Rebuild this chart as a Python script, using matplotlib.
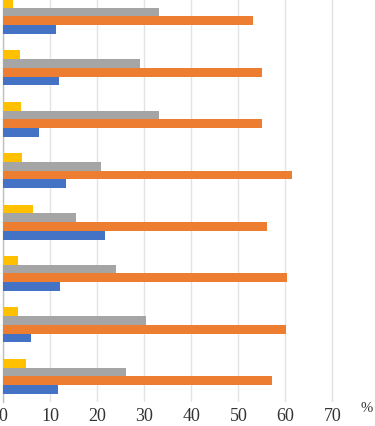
import matplotlib
matplotlib.use("Agg")
import matplotlib.pyplot as plt
import numpy as np

plt.rcParams["font.family"] = ["Liberation Serif", "DejaVu Serif"]

# groups listed bottom to top
groups = [1, 2, 3, 4, 5, 6, 7, 8]
blue   = [11.6, 6.0, 12.2, 21.6, 13.4, 7.7, 12.0, 11.3]
orange = [57.2, 60.1, 60.4, 56.1, 61.3, 55.0, 55.1, 53.1]
gray   = [26.1, 30.4, 24.0, 15.6, 20.8, 33.2, 29.1, 33.2]
yellow = [4.8, 3.2, 3.2, 6.4, 4.0, 3.8, 3.6, 2.2]
xticks = [0, 10, 20, 30, 40, 50, 60, 70]

colors = ["#4472C4", "#ED7D31", "#A5A5A5", "#FFC000"]
series = [blue, orange, gray, yellow]

W, H = 375, 426
fig = plt.figure(figsize=(W / 100, H / 100), dpi=100)
left, right, top, bottom = 3, 356, 0, 402
ax = fig.add_axes([left / W, 1 - bottom / H, (right - left) / W, (bottom - top) / H])

h = 0.17
y = np.array(groups, dtype=float)
offsets = [-1.5 * h, -0.5 * h, 0.5 * h, 1.5 * h]
for vals, c, off in zip(series, colors, offsets):
    ax.barh(y + off, vals, height=h, color=c, edgecolor="none", zorder=3)

ax.set_xlim(0, 75)
ax.set_ylim(0.5, 8.32)
ax.set_xticks(xticks)
ax.set_xticklabels([str(t) for t in xticks], fontsize=13, color="#333333")
ax.set_yticks([])
ax.tick_params(axis="x", length=0, pad=4)
ax.grid(axis="x", color="#E3E3E3", linewidth=1, zorder=0)
for s in ["top", "right", "bottom"]:
    ax.spines[s].set_visible(False)
ax.spines["left"].set_color("#BFBFBF")
ax.spines["left"].set_linewidth(1)

fig.text(367 / W, 1 - 408 / H, "%", ha="center", va="center",
         fontsize=10.5, color="#333333")

fig.savefig("out.png", dpi=100)
